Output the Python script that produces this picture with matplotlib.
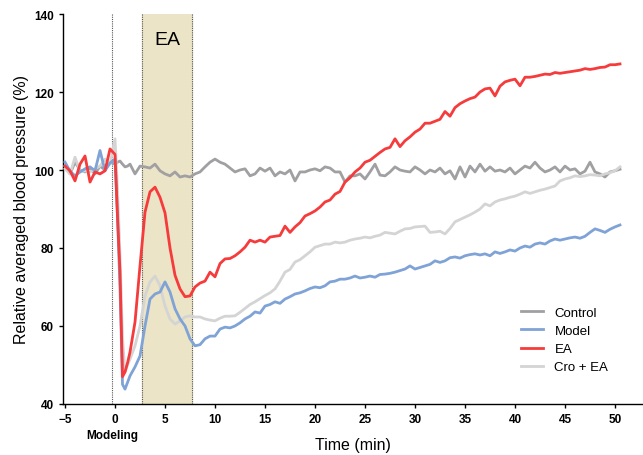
import numpy as np
import matplotlib
matplotlib.use("Agg")
import matplotlib.pyplot as plt

plt.rcParams['font.family'] = ['Liberation Sans', 'DejaVu Sans']

# time grid (min): coarse before modeling, fine during the drop, then every 0.5 min
t = np.concatenate([np.arange(-5, 0, 0.5), np.arange(0, 1.5, 0.25), np.arange(1.5, 50.6, 0.5)])

control = [
    101, 99, 102, 100, 99.5, 100.5, 99, 101, 100, 102,
    101.5, 102, 102.3, 101.5, 100.8, 101,
    101.5, 99, 101, 100.8, 100.5, 101.5, 99.8, 99, 98.5, 99.5,
    98.2, 98.5, 98.2, 99, 99.5, 100.8, 102, 102.8, 102, 101.5,
    100.5, 99.5, 100, 100.3, 98.5, 99, 100.5, 99.7, 100.5, 98.5,
    99.5, 99, 100, 97.2, 99.5, 99.5, 100, 100.3, 99.8, 100.8,
    100.5, 99.5, 99.5, 96.9, 98.5, 98.5, 99, 97.7, 99.5, 101.5,
    98.7, 98.5, 99.5, 100.8, 100, 99.7, 99.5, 100.8, 100, 99,
    100, 99.5, 100.5, 99, 99.8, 97.7, 100.8, 98.2, 101, 99.5,
    101.5, 99.7, 100.8, 99.7, 100, 99.5, 100.5, 99, 100, 101,
    100.5, 102, 100.5, 99.5, 100, 100.8, 99.5, 101, 100, 100.3,
    99, 99.7, 102, 99.5, 99, 98.2, 99.5, 99.8, 100.2,
]

model = [
    102, 99.7, 98.5, 99.5, 100.3, 100.8, 99.8, 105, 99.8, 101.8,
    102.8, 88, 69.5, 45, 43.8, 45.5,
    47.2, 49.5, 52.3, 60, 66.9, 68.2, 68.7, 71.3, 68.7, 64.4,
    61.8, 60, 56.7, 54.9, 55.2, 56.7, 57.4, 57.4, 59.2, 59.7,
    59.5, 60, 60.8, 61.8, 62.5, 63.6, 63.3, 65.1, 65.5, 66.2,
    65.8, 66.9, 67.5, 68.2, 68.5, 69, 69.6, 70, 69.8, 70.3,
    71.3, 71.5, 72, 72, 72.3, 72.8, 72.3, 72.5, 72.8, 72.5,
    73.2, 73.3, 73.5, 73.8, 74.2, 74.6, 75.4, 74.6, 75, 75.4,
    75.8, 76.7, 76.3, 76.7, 77.5, 77.7, 77.4, 78, 78.3, 78.5,
    78.2, 78.5, 78, 79, 78.6, 79, 79.5, 79.2, 80, 80.5,
    80.2, 81, 81.3, 81, 81.8, 82.3, 82, 82.3, 82.6, 82.8,
    82.5, 83, 84, 84.9, 84.5, 84, 84.8, 85.4, 85.9,
]

ea = [
    101, 99.8, 97.2, 101.5, 103.6, 96.9, 99.5, 99, 99.8, 105.4,
    104, 88, 73.8, 47, 48.2, 50.5,
    53.3, 61, 75.4, 89.2, 94.4, 95.6, 93, 89, 80, 73,
    69.5, 67.5, 67.7, 70, 71, 71.5, 73.8, 72.6, 76, 77.2,
    77.3, 78, 79, 80.2, 82, 81.5, 82, 81.5, 82.8, 83,
    83.2, 85.6, 84, 85.4, 86.5, 88.2, 88.8, 89.5, 90.5, 91.8,
    92.3, 93.8, 94.5, 96.9, 98, 99.5, 100.5, 102, 102.5, 103.5,
    104.5, 105.4, 105.8, 108, 106, 107.5, 108.5, 109.7, 110.5, 112,
    112, 112.5, 113, 115, 113.8, 116, 117, 117.7, 118.3, 118.7,
    120, 120.8, 121, 119, 121.5, 122.6, 123, 123.3, 121.6, 123.8,
    123.8, 124, 124.3, 124.6, 124.5, 125, 124.8, 125, 125.2, 125.4,
    125.6, 126, 125.8, 126, 126.3, 126.4, 127, 127, 127.2,
]

cro_ea = [
    100.3, 99, 103.3, 99.5, 99.8, 99.5, 100.3, 101, 102.8, 101.5,
    108, 95, 78, 56.7, 48.2, 50,
    51.5, 54.9, 60, 67.7, 71.3, 72.8, 70.3, 65.1, 61.8, 60.5,
    61.3, 62.3, 62.6, 62.3, 62.3, 61.8, 61.5, 61.3, 62, 62.5,
    62.5, 62.6, 63.5, 64.5, 65.5, 66.2, 67, 67.8, 68.5, 69.5,
    71.5, 73.8, 74.5, 76.4, 77, 78, 79, 80.2, 80.6, 81,
    81, 81.5, 81.3, 81.5, 82, 82.3, 82.5, 82.8, 82.6, 83,
    83.3, 84, 83.8, 83.6, 84.3, 84.9, 85, 85.4, 85.5, 85.6,
    84, 84.1, 84.3, 83.6, 85, 86.7, 87.3, 87.9, 88.5, 89.2,
    90, 91.3, 90.8, 91.8, 92.3, 92.6, 93, 93.3, 93.8, 94.4,
    94, 94.4, 94.8, 95.1, 95.5, 95.9, 97.2, 97.7, 98, 98.5,
    98.3, 98.5, 98.8, 98.7, 98.5, 99, 99.3, 99.8, 100.8,
]

modeling_t = -0.3
ea_start, ea_end = 2.7, 7.7

fig = plt.figure(figsize=(6.43, 4.56), dpi=100)
ax = fig.add_axes([0.098, 0.112, 0.902, 0.855])

ax.axvspan(ea_start, ea_end, color='#ECE4C6', zorder=0)
for xv in (modeling_t, ea_start, ea_end):
    ax.axvline(xv, color='#555555', ls=(0, (1, 1)), lw=0.8, zorder=1)

ax.plot(t, control, color='#A0A0A3', lw=2, label='Control', zorder=3)
ax.plot(t, cro_ea, color='#D4D4D4', lw=2, label='Cro + EA', zorder=3)
ax.plot(t, model, color='#7FA3D6', lw=2, label='Model', zorder=4)
ax.plot(t, ea, color='#F53B3B', lw=2, label='EA', zorder=5)

ax.text(5.2, 133.5, 'EA', fontsize=14, ha='center', va='center')

ax.set_xlim(-5.2, 52.8)
ax.set_ylim(40, 140)
ax.set_xticks(np.arange(-5, 51, 5))
ax.set_yticks(np.arange(40, 141, 20))
for lab in ax.get_xticklabels() + ax.get_yticklabels():
    lab.set_fontweight('bold')
    lab.set_fontsize(8.5)
ax.tick_params(length=3, width=1)
for s in ('top', 'right'):
    ax.spines[s].set_visible(False)
ax.spines['left'].set_linewidth(1)
ax.spines['bottom'].set_linewidth(1)

ax.set_xlabel('Time (min)', fontsize=11.5, labelpad=9)
ax.set_ylabel('Relative averaged blood pressure (%)', fontsize=11.5)
ax.text(-0.3, -0.065, 'Modeling', transform=ax.get_xaxis_transform(), ha='center', va='top',
        fontsize=8.5, fontweight='bold')

handles, labels = ax.get_legend_handles_labels()
order = [0, 2, 3, 1]
ax.legend([handles[i] for i in order], [labels[i] for i in order], frameon=False,
          loc='upper left', bbox_to_anchor=(0.77, 0.28), fontsize=9.5, handlelength=1.6,
          handletextpad=0.9, labelspacing=0.45)

fig.savefig('out.png', dpi=100)
